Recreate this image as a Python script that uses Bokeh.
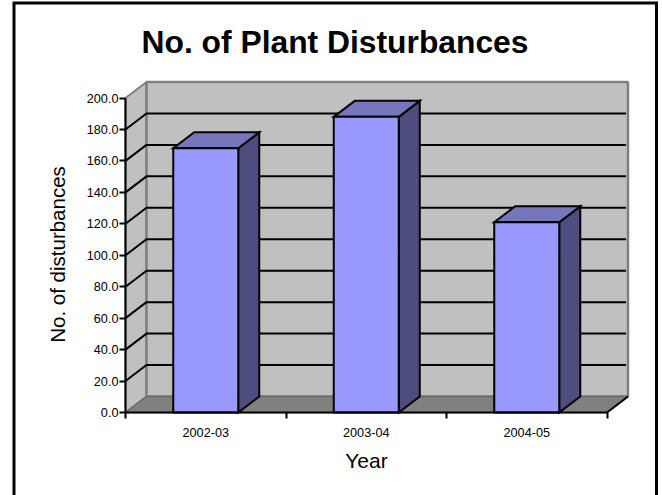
from bokeh.plotting import figure
from bokeh.models import Range1d, FixedTicker, NumeralTickFormatter, Label
from bokeh.embed import file_html
from bokeh.resources import INLINE

title_text = "No. of Plant Disturbances"
x_title = "Year"
y_title = "No. of disturbances"
categories = ["2002-03", "2003-04", "2004-05"]
disturbances = [168, 188, 121]
y_ticks = [0, 20, 40, 60, 80, 100, 120, 140, 160, 180, 200]

FONT = "Liberation Sans"
W, H = 662, 495
PX_X = 160.5   # px per category
PX_Y = 1.5725   # px per unit
X0, Y0 = 125.0, 412.0  # pixel of data origin
DX = 21 / PX_X
DY = 16 / PX_Y
BAR = 65 / PX_X

def fx(px):
    return (px - X0) / PX_X

def fy(px):
    return (Y0 - px) / PX_Y

p = figure(width=W, height=H, output_backend="svg", toolbar_location=None,
           x_range=Range1d(fx(0), fx(W)), y_range=Range1d(fy(H), fy(0)),
           min_border=0, outline_line_color=None,
           styles={"position": "absolute", "left": "0px", "top": "0px"})
p.grid.visible = False

n = len(categories)
top = y_ticks[-1]

# walls and floor
p.patch([0, DX, DX, 0], [0, DY, top + DY, top], fill_color="#C0C0C0", line_color="#808080", line_width=2)
p.patch([DX, n + DX, n + DX, DX], [DY, DY, top + DY, top + DY], fill_color="#C0C0C0", line_color="#808080", line_width=2.5)
p.patch([0, DX, n + DX, n], [0, DY, DY, 0], fill_color="#808080", line_color="#6A6A6A", line_width=1.5)
p.line([n, n + DX], [0, DY], line_color="black", line_width=2)

# gridlines
gy = [t for t in y_ticks if 0 < t < top]
p.multi_line([[0, DX, n + DX - 0.012] for _ in gy], [[t, t + DY, t + DY] for t in gy],
             line_color="black", line_width=2)

# bars
xs = [i + 0.5 for i in range(n)]
L = [x - BAR / 2 for x in xs]
R = [x + BAR / 2 for x in xs]
p.patches([[r, r + DX, r + DX, r] for r in R],
          [[0, DY, v + DY, v] for v in disturbances],
          fill_color="#4D4D80", line_color="black", line_width=2, line_join="miter")
p.patches([[l, r, r + DX, l + DX] for l, r in zip(L, R)],
          [[v, v, v + DY, v + DY] for v in disturbances],
          fill_color="#7676BC", line_color="black", line_width=2, line_join="miter")
p.vbar(x=xs, width=BAR, top=disturbances, bottom=0, fill_color="#9999FF",
       line_color="black", line_width=2, line_join="miter")

# axes
xa = p.xaxis[0]
xa.fixed_location = 0
xa.bounds = (0, n)
xa.ticker = FixedTicker(ticks=xs, minor_ticks=list(range(n + 1)))
xa.major_label_overrides = {x: c for x, c in zip(xs, categories)}
xa.major_tick_line_color = None
xa.minor_tick_in = 0
xa.minor_tick_out = 6
xa.minor_tick_line_color = "black"
xa.minor_tick_line_width = 2
xa.axis_line_color = "black"
xa.axis_line_width = 2
xa.major_label_standoff = 9
xa.major_label_text_font = FONT
xa.major_label_text_font_size = "12.7px"
xa.major_label_text_color = "black"

ya = p.yaxis[0]
ya.fixed_location = 0
ya.bounds = (0, top)
ya.ticker = FixedTicker(ticks=y_ticks)
ya.formatter = NumeralTickFormatter(format="0.0")
ya.major_tick_in = 0
ya.major_tick_out = 6
ya.major_tick_line_color = "black"
ya.major_tick_line_width = 2
ya.minor_tick_line_color = None
ya.axis_line_color = "black"
ya.axis_line_width = 2
ya.major_label_standoff = 1
ya.major_label_text_font = FONT
ya.major_label_text_font_size = "12.7px"
ya.major_label_text_color = "black"

# outer chart border
p.line([fx(13.5), fx(13.5), fx(656), fx(656)], [fy(H), fy(2.5), fy(2.5), fy(H)],
       line_color="black", line_width=3, line_join="miter")

# texts
p.add_layout(Label(x=fx(334.5), y=fy(41.5), text=title_text, text_font=FONT, text_font_size="31.8px",
                   text_font_style="bold", text_color="black", text_align="center", text_baseline="middle"))
p.add_layout(Label(x=fx(366), y=fy(459.5), text=x_title, text_font=FONT, text_font_size="21px",
                   text_color="black", text_align="center", text_baseline="middle"))
p.add_layout(Label(x=fx(57), y=fy(254), text=y_title, text_font=FONT, text_font_size="20.5px",
                   text_color="black", text_align="center", text_baseline="middle", angle=90, angle_units="deg"))

open("out.html", "w").write(file_html(p, INLINE))
